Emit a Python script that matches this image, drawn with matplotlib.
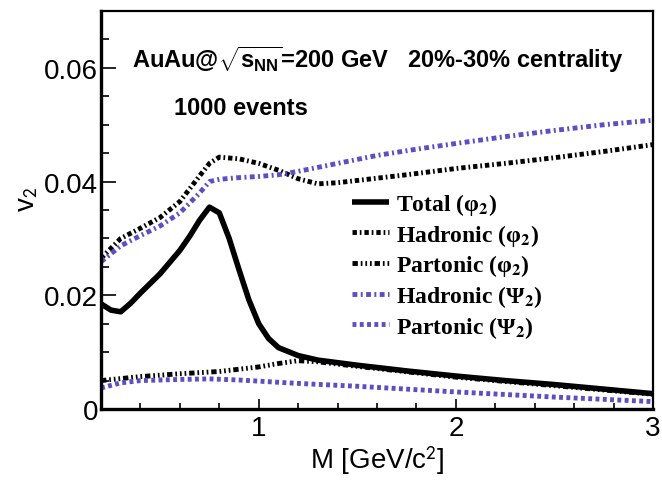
import matplotlib
matplotlib.use('Agg')
import matplotlib.pyplot as plt
from matplotlib.ticker import MultipleLocator, FuncFormatter

# valores
x_total = [0.2, 0.25, 0.3, 0.35, 0.4, 0.5, 0.6, 0.65, 0.7, 0.75, 0.8, 0.85, 0.9, 0.95,
           1.0, 1.05, 1.1, 1.2, 1.3, 1.5, 1.75, 2.0, 2.25, 2.5, 2.75, 3.0]
v2_total = [0.0185, 0.0174, 0.0171, 0.0186, 0.0204, 0.0238, 0.0279, 0.0304, 0.0332, 0.0355,
            0.0345, 0.0300, 0.0245, 0.0192, 0.0150, 0.0124, 0.0108, 0.0094, 0.0086, 0.0077,
            0.0067, 0.0058, 0.0050, 0.0043, 0.0035, 0.0027]

x_had_phi = [0.2, 0.3, 0.4, 0.5, 0.6, 0.7, 0.75, 0.8, 0.9, 1.0, 1.1, 1.2, 1.3, 1.4, 1.5,
             1.75, 2.0, 2.25, 2.5, 2.75, 3.0]
v2_had_phi = [0.0265, 0.0300, 0.0318, 0.0337, 0.0365, 0.0410, 0.0432, 0.0443, 0.0440, 0.0432,
              0.0420, 0.0405, 0.0396, 0.0398, 0.0402, 0.0412, 0.0423, 0.0432, 0.0442, 0.0453, 0.0465]

x_part_phi = [0.2, 0.4, 0.6, 0.8, 1.0, 1.1, 1.2, 1.3, 1.5, 2.0, 2.5, 3.0]
v2_part_phi = [0.0050, 0.0057, 0.0062, 0.0066, 0.0074, 0.0080, 0.0085, 0.0083, 0.0075,
               0.0056, 0.0041, 0.0026]

x_had_psi = [0.2, 0.3, 0.4, 0.5, 0.6, 0.7, 0.75, 0.8, 0.9, 1.0, 1.1, 1.2, 1.4, 1.6, 1.8,
             2.0, 2.25, 2.5, 2.75, 3.0]
v2_had_psi = [0.0259, 0.0287, 0.0305, 0.0322, 0.0345, 0.0380, 0.0400, 0.0404, 0.0407, 0.0409,
              0.0412, 0.0418, 0.0432, 0.0446, 0.0457, 0.0467, 0.0479, 0.0490, 0.0500, 0.0508]

x_part_psi = [0.2, 0.3, 0.4, 0.6, 0.75, 0.9, 1.0, 1.2, 1.5, 2.0, 2.5, 3.0]
v2_part_psi = [0.0037, 0.0046, 0.0050, 0.0052, 0.0053, 0.0051, 0.0049, 0.0045, 0.0040,
               0.0030, 0.0021, 0.0013]

azul = '#5b4fc4'

plt.rcParams['font.family'] = ['Liberation Sans', 'DejaVu Sans']
plt.rcParams['mathtext.fontset'] = 'custom'
plt.rcParams['mathtext.rm'] = 'Liberation Sans:bold'
plt.rcParams['mathtext.it'] = 'Liberation Sans:bold'
plt.rcParams['mathtext.bf'] = 'Liberation Sans:bold'

fig = plt.figure(figsize=(6.62, 4.81), dpi=100)
ax = fig.add_axes([0.1526, 0.1476, 0.8338, 0.8274])

ax.plot(x_total, v2_total, color='black', lw=4.0, solid_capstyle='butt',
        label=r'Total (φ$_{\mathbf{2}}$)')
ax.plot(x_had_phi, v2_had_phi, color='black', lw=3.5, dashes=(0.9, 0.6, 0.35, 0.6),
        label=r'Hadronic (φ$_{\mathbf{2}}$)')
ax.plot(x_part_phi, v2_part_phi, color='black', lw=3.5,
        dashes=(1.1, 0.6, 0.35, 0.6, 0.35, 0.6, 0.35, 0.6),
        label=r'Partonic (φ$_{\mathbf{2}}$)')
ax.plot(x_had_psi, v2_had_psi, color=azul, lw=3.5, dashes=(1.0, 0.7, 0.4, 0.7),
        label=r'Hadronic (Ψ$_{\mathbf{2}}$)')
ax.plot(x_part_psi, v2_part_psi, color=azul, lw=3.5, dashes=(0.8, 0.7),
        label=r'Partonic (Ψ$_{\mathbf{2}}$)')

ax.set_xlim(0.2, 3.0)
ax.set_ylim(0, 0.07)

ax.xaxis.set_major_locator(MultipleLocator(1))
ax.xaxis.set_minor_locator(MultipleLocator(0.2))
ax.yaxis.set_major_locator(MultipleLocator(0.02))
ax.yaxis.set_minor_locator(MultipleLocator(0.005))
ax.yaxis.set_major_formatter(FuncFormatter(lambda v, p: '0' if abs(v) < 1e-9 else f'{v:.2f}'))

ax.tick_params(axis='both', which='both', direction='in', top=False, right=False,
               labelsize=20, width=1.2)
ax.tick_params(axis='y', which='major', length=11, pad=2)
ax.tick_params(axis='y', which='minor', length=6)
ax.tick_params(axis='x', which='major', length=7, pad=4)
ax.tick_params(axis='x', which='minor', length=4)

for lado in ['left', 'bottom']:
    ax.spines[lado].set_linewidth(2.4)
for lado in ['top', 'right']:
    ax.spines[lado].set_linewidth(1.6)

xl = ax.set_xlabel(r'M [GeV/c$^2$]', fontsize=20, labelpad=2)
xl.set_math_fontfamily('stixsans')
yl = ax.set_ylabel(r'v$_2$', fontsize=20)
yl.set_math_fontfamily('stixsans')
ax.yaxis.set_label_coords(-0.11, 0.53)

ax.text(0.357, 0.0616, r'AuAu@$\sqrt{s_{NN}}$=200 GeV   20%-30% centrality',
        fontsize=17, fontweight='bold', va='center', ha='left')
ax.text(0.57, 0.053, '1000 events', fontsize=17, fontweight='bold', va='center', ha='left')

leg = ax.legend(loc='upper left', bbox_to_anchor=(0.455, 0.548), frameon=False,
                borderaxespad=0, borderpad=0, handlelength=1.55, handletextpad=0.3,
                labelspacing=0.2,
                prop={'family': 'Liberation Serif', 'weight': 'bold', 'size': 17})
for t in leg.get_texts():
    t.set_math_fontfamily('stix')

fig.savefig('out.png', dpi=100)
